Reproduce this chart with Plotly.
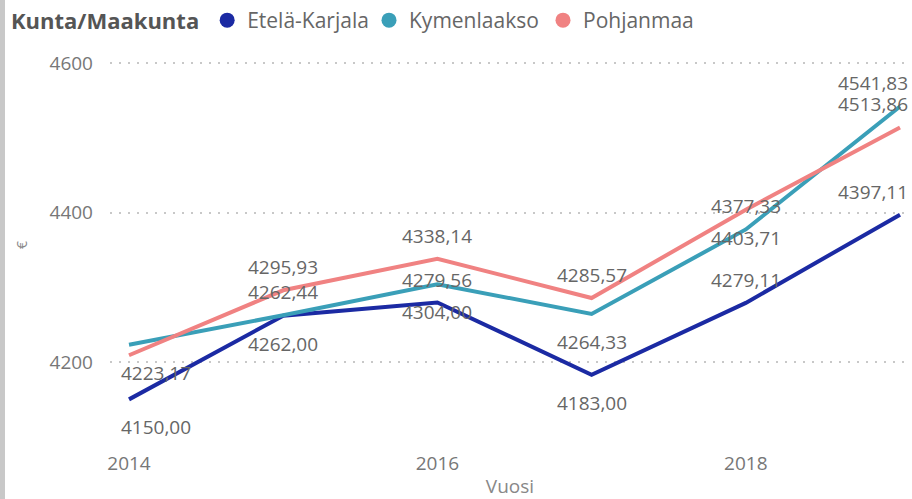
import plotly.graph_objects as go

years = [2014, 2015, 2016, 2017, 2018, 2019]
series_names = ["Etelä-Karjala", "Kymenlaakso", "Pohjanmaa"]
etela_karjala = [4150.00, 4262.00, 4279.56, 4183.00, 4279.11, 4397.11]
kymenlaakso = [4223.17, 4262.44, 4304.00, 4264.33, 4377.33, 4541.83]
pohjanmaa = [4209.00, 4295.93, 4338.14, 4285.57, 4403.71, 4513.86]
pohjanmaa_show_label = [False, True, True, True, True, True]
y_ticks = [4200, 4400, 4600]
x_ticks = [2014, 2016, 2018]

colors = ["#1B2AA3", "#3A9FB8", "#F08282"]
# label side: +1 above, -1 below
sides = [
    [-1, -1, 1, -1, 1, 1],
    [-1, 1, -1, -1, 1, 1],
    [1, 1, 1, 1, -1, 1],
]
all_values = [etela_karjala, kymenlaakso, pohjanmaa]
show = [[True] * 6, [True] * 6, pohjanmaa_show_label]


def fmt(v):
    return f"{v:.2f}".replace(".", ",")


W, H = 912, 499
ml, mr, mt, mb = 110, 2, 50, 59
pw = W - ml - mr
ph = H - mt - mb

fig = go.Figure()
annotations = []
for name, vals, col, sd, sh in zip(series_names, all_values, colors, sides, show):
    fig.add_trace(go.Scatter(
        x=years, y=vals, mode="lines",
        line=dict(color=col, width=4),
        showlegend=False, name=name,
    ))
    for i, (yr, v, s, on) in enumerate(zip(years, vals, sd, sh)):
        if not on:
            continue
        xs = 27 if i == 0 else (-27 if i == len(years) - 1 else 0)
        annotations.append(dict(
            x=yr, y=v, xref="x", yref="y", text=fmt(v), showarrow=False,
            xanchor="center", yanchor="middle",
            xshift=xs, yshift=23 if s > 0 else -28,
            font=dict(family="Open Sans", size=19, color="#666666"),
        ))

legend_ids = ["legend", "legend2", "legend3"]
for name, col, lid in zip(series_names, colors, legend_ids):
    fig.add_trace(go.Scatter(
        x=[None], y=[None], mode="markers",
        marker=dict(size=15, color=col, symbol="circle"),
        name=name, showlegend=True, legend=lid,
    ))

item_font = dict(size=21, color="#666666", family="Open Sans")
common_leg = dict(orientation="h", xref="container", yref="container",
                  y=1.0, xanchor="left", yanchor="top",
                  font=item_font, itemwidth=30, tracegroupgap=0)

fig.update_layout(
    width=W, height=H,
    margin=dict(l=ml, r=mr, t=mt, b=mb, autoexpand=False),
    paper_bgcolor="white", plot_bgcolor="white",
    font=dict(family="Open Sans", color="#777777"),
    legend=dict(
        x=9 / W,
        title=dict(text="<b>Kunta/Maakunta</b>", font=dict(size=22, color="#555555", family="Open Sans")),
        **common_leg,
    ),
    legend2=dict(x=(395 - 26) / W, **common_leg),
    legend3=dict(x=(569 - 26) / W, **common_leg),
    xaxis=dict(
        range=[2014 - 19 / 154.2, 2019 + 10 / 154.2],
        tickvals=x_ticks, ticktext=[str(t) for t in x_ticks],
        showgrid=False, zeroline=False, showline=False,
        ticks="outside", ticklen=6, tickcolor="rgba(0,0,0,0)",
        tickfont=dict(size=19, color="#777777"),
        title=dict(text="Vuosi", font=dict(size=19, color="#888888"), standoff=8),
    ),
    yaxis=dict(
        range=[4200 - 78 / 0.7475, 4600 + 13 / 0.7475],
        tickvals=y_ticks,
        showgrid=True, gridcolor="#C8C8C8", griddash="2px,7px", gridwidth=1.5,
        zeroline=False, showline=False,
        tickfont=dict(size=19, color="#777777"),
        ticklabelstandoff=16,
        title=dict(text="€", font=dict(size=14, color="#888888"), standoff=18),
    ),
    annotations=annotations,
    shapes=[dict(
        type="rect", xref="paper", yref="paper",
        x0=(0 - ml) / pw, x1=(5 - ml) / pw,
        y0=-mb / ph, y1=1 + mt / ph,
        fillcolor="#C8C8C8", line=dict(width=0), layer="below",
    )],
)

fig.write_html(
    "out.html",
    config={"displayModeBar": False},
    post_script="document.body.style.margin='0';document.body.style.padding='0';",
)
